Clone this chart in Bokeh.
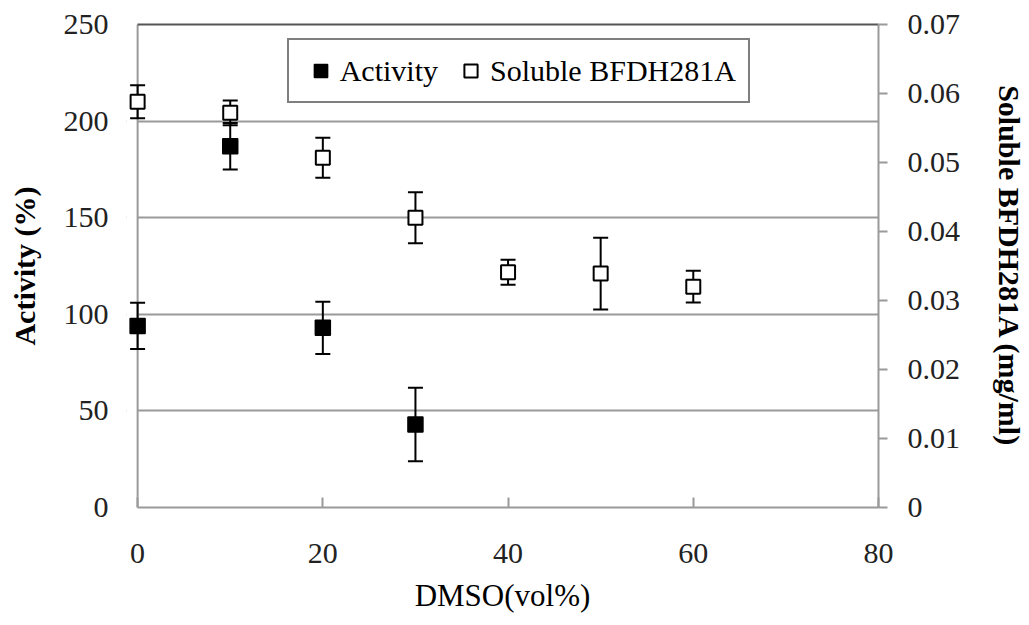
from bokeh.plotting import figure
from bokeh.models import (Range1d, LinearAxis, FixedTicker, Whisker, TeeHead, ColumnDataSource,
                          Legend, LegendItem, Span, BoxAnnotation)
from bokeh.embed import file_html
from bokeh.resources import INLINE

# ---- data ----
act_x = [0, 10, 20, 30]
act_y = [94, 187, 93, 43]
act_err = [12, 12, 13.5, 19]

sol_x = [0, 10, 20, 30, 40, 50, 60]
sol_y = [0.0588, 0.0572, 0.0507, 0.0420, 0.0341, 0.0339, 0.0320]
sol_err = [0.0024, 0.0018, 0.0029, 0.0037, 0.0018, 0.0052, 0.0023]

x_ticks = [0, 20, 40, 60, 80]
left_ticks = [0, 50, 100, 150, 200, 250]
grid_ticks = [50, 100, 150, 200]
right_ticks = [0, 0.01, 0.02, 0.03, 0.04, 0.05, 0.06, 0.07]
right_tick_labels = ["0", "0.01", "0.02", "0.03", "0.04", "0.05", "0.06", "0.07"]

FONT = "Liberation Serif"
GRAY = "#9a9a9a"

p = figure(width=1029, height=625, output_backend="svg", toolbar_location=None,
           x_range=Range1d(-1.2, 80), y_range=Range1d(0, 250), title=None,
           min_border_left=126, min_border_right=146, min_border_top=24, min_border_bottom=118)
p.outline_line_color = None
p.background_fill_color = "white"
p.border_fill_color = "white"
p.extra_y_ranges = {"right": Range1d(0, 0.07)}

# grid
p.xgrid.visible = False
p.ygrid.ticker = FixedTicker(ticks=grid_ticks)
p.ygrid.grid_line_color = GRAY
p.ygrid.grid_line_width = 2

# hide grid in the small gutter left of x=0
p.add_layout(BoxAnnotation(right=0, fill_color="white", fill_alpha=1, line_color=None, level="underlay"))

# bottom axis
xa = p.xaxis[0]
xa.ticker = FixedTicker(ticks=x_ticks)
xa.bounds = (0, 80)
xa.axis_line_color = GRAY
xa.axis_line_width = 2
xa.major_tick_in = 10
xa.major_tick_out = 0
xa.major_tick_line_color = GRAY
xa.major_tick_line_width = 2
xa.minor_tick_line_color = None
xa.major_label_standoff = 36
xa.major_label_text_font = FONT
xa.major_label_text_font_size = "30px"
xa.major_label_text_color = "#222222"
xa.axis_label = "DMSO(vol%)"
xa.axis_label_text_font = FONT
xa.axis_label_text_font_style = "normal"
xa.axis_label_text_font_size = "31px"
xa.axis_label_text_color = "black"
xa.axis_label_standoff = 12

# left axis
ya = p.yaxis[0]
ya.ticker = FixedTicker(ticks=left_ticks)
ya.axis_line_color = None
ya.major_tick_in = 0
ya.major_tick_out = 0
ya.minor_tick_line_color = None
ya.major_label_standoff = 18
ya.major_label_text_font = FONT
ya.major_label_text_font_size = "30px"
ya.major_label_text_color = "#222222"
ya.axis_label = "Activity (%)"
ya.axis_label_text_font = FONT
ya.axis_label_text_font_style = "bold"
ya.axis_label_text_font_size = "30px"
ya.axis_label_text_color = "black"
ya.axis_label_standoff = 20

# left axis line at x = 0
p.add_layout(Span(location=0, dimension="height", line_color=GRAY, line_width=2, level="underlay"))

# right axis
ra = LinearAxis(y_range_name="right", ticker=FixedTicker(ticks=right_ticks),
                major_label_overrides={t: s for t, s in zip(right_ticks, right_tick_labels)})
ra.axis_line_color = GRAY
ra.axis_line_width = 2
ra.major_tick_in = 0
ra.major_tick_out = 9
ra.major_tick_line_color = GRAY
ra.major_tick_line_width = 2
ra.minor_tick_line_color = None
ra.major_label_standoff = 20
ra.major_label_text_font = FONT
ra.major_label_text_font_size = "30px"
ra.major_label_text_color = "#222222"
ra.axis_label = "Soluble BFDH281A (mg/ml)"
ra.axis_label_text_font = FONT
ra.axis_label_text_font_style = "bold"
ra.axis_label_text_font_size = "30px"
ra.axis_label_text_color = "black"
ra.axis_label_standoff = 30
p.add_layout(ra, "right")

# top border line
ta = LinearAxis(ticker=FixedTicker(ticks=[]), bounds=(0, 80))
ta.axis_line_color = "#555555"
ta.axis_line_width = 2
ta.major_tick_in = 0
ta.major_tick_out = 0
ta.minor_tick_line_color = None
ta.major_label_text_font_size = "0px"
p.add_layout(ta, "above")

# data sources
act_src = ColumnDataSource(dict(x=act_x, y=act_y,
                                upper=[v + e for v, e in zip(act_y, act_err)],
                                lower=[v - e for v, e in zip(act_y, act_err)]))
sol_src = ColumnDataSource(dict(x=sol_x, y=sol_y,
                                upper=[v + e for v, e in zip(sol_y, sol_err)],
                                lower=[v - e for v, e in zip(sol_y, sol_err)]))

for src, rng in ((act_src, "default"), (sol_src, "right")):
    w = Whisker(base="x", upper="upper", lower="lower", source=src, y_range_name=rng,
                line_color="black", line_width=2, level="underlay",
                upper_head=TeeHead(size=15, line_color="black", line_width=2),
                lower_head=TeeHead(size=15, line_color="black", line_width=2))
    p.add_layout(w)

r_act = p.scatter("x", "y", source=act_src, marker="square", size=15,
                  fill_color="black", line_color="black", line_width=1.5)
r_sol = p.scatter("x", "y", source=sol_src, marker="square", size=14, y_range_name="right",
                  fill_color="white", line_color="black", line_width=2)

legend = Legend(items=[LegendItem(label="Activity", renderers=[r_act]),
                       LegendItem(label="Soluble BFDH281A", renderers=[r_sol])],
                orientation="horizontal", location=(160.7, 404), margin=0,
                padding=12, spacing=13, glyph_width=39, glyph_height=33,
                label_standoff=0, label_height=37,
                label_text_font=FONT, label_text_font_size="30px", label_text_color="black",
                border_line_color="black", border_line_width=2,
                background_fill_color="white", background_fill_alpha=1)
p.add_layout(legend)

open("out.html", "w").write(file_html(p, INLINE))
